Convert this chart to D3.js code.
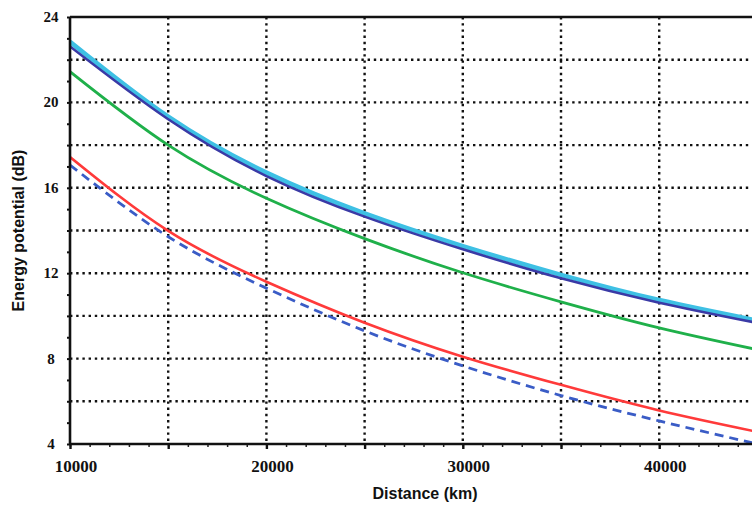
<!DOCTYPE html>
<html>
<head>
<meta charset="utf-8">
<script src="https://cdn.jsdelivr.net/npm/d3@7"></script>
<style>
  body { margin: 0; background: #fff; }
  svg { display: block; }
  .tickLabel text { font-family: "Liberation Serif", "Times New Roman", serif; font-weight: bold; fill: #111; }
  .title { font-family: "Liberation Sans", Arial, sans-serif; font-weight: bold; font-size: 16px; fill: #111; }
</style>
</head>
<body>
<div id="box"></div>
<script>
const distances = [10000, 15000, 20000, 25000, 30000, 35000, 40000, 45000]

const cyanSeries   = [22.84, 19.33, 16.71, 14.80, 13.27, 11.92, 10.74, 9.78]
const blueSeries   = [22.62, 19.21, 16.55, 14.65, 13.12, 11.76, 10.62, 9.67]
const greenSeries  = [21.44, 18.00, 15.51, 13.62, 12.02, 10.66, 9.44, 8.42]
const redSeries    = [17.44, 13.98, 11.60, 9.68, 8.09, 6.77, 5.57, 4.57]
const dashedSeries = [17.07, 13.71, 11.30, 9.30, 7.66, 6.27, 5.08, 4.00]

const xTickLabels = [10000, 20000, 30000, 40000]
const yTickLabels = [4, 8, 12, 16, 20, 24]

const width = 752
const height = 506
const margin = { left: 70, top: 17, bottom: 62 }
const plotRight = 757.4

const svg = d3.select('#box').append('svg')
  .attr('width', width)
  .attr('height', height)

const xScale = d3.scaleLinear().domain([10000, 45000]).range([margin.left, plotRight])
const yScale = d3.scaleLinear().domain([4, 24]).range([height - margin.bottom, margin.top])

svg.append('clipPath').attr('id', 'plotClip')
  .append('rect')
  .attr('x', margin.left).attr('y', margin.top - 2)
  .attr('width', plotRight - margin.left).attr('height', yScale(4) - margin.top + 4)

// dotted grid
const grid = svg.append('g')
  .attr('stroke', '#111')
  .attr('stroke-width', 2.4)
  .attr('stroke-dasharray', '2.4,3.8')

grid.selectAll('.hgrid')
  .data(d3.range(6, 24, 2))
  .enter()
  .append('line')
  .attr('x1', margin.left)
  .attr('x2', width)
  .attr('y1', d => yScale(d))
  .attr('y2', d => yScale(d))

grid.selectAll('.vgrid')
  .data(d3.range(15000, 45001, 5000))
  .enter()
  .append('line')
  .attr('x1', d => xScale(d))
  .attr('x2', d => xScale(d))
  .attr('y1', margin.top)
  .attr('y2', yScale(4))

// curves
const line = d3.line()
  .x((d, i) => xScale(distances[i]))
  .y(d => yScale(d))
  .curve(d3.curveNatural)

const series = [
  { values: cyanSeries,   color: '#3ec0e4', w: 4.6, dash: null },
  { values: blueSeries,   color: '#3a3aa6', w: 2.6, dash: null },
  { values: greenSeries,  color: '#1fb04a', w: 2.8, dash: null },
  { values: redSeries,    color: '#ff3a3a', w: 2.6, dash: null },
  { values: dashedSeries, color: '#3a5cc6', w: 2.8, dash: '9,6' }
]

const curves = svg.append('g').attr('clip-path', 'url(#plotClip)')
curves.selectAll('path')
  .data(series)
  .enter()
  .append('path')
  .attr('d', d => line(d.values))
  .attr('fill', 'none')
  .attr('stroke', d => d.color)
  .attr('stroke-width', d => d.w)
  .attr('stroke-dasharray', d => d.dash)

// axes: minor ticks
svg.append('g')
  .attr('transform', `translate(0, ${yScale(4)})`)
  .call(d3.axisBottom(xScale).tickValues(d3.range(10000, 45001, 1000)).tickSize(3).tickFormat(''))
  .call(g => g.select('.domain').remove())
  .selectAll('line').attr('stroke', '#222').attr('stroke-width', 1.5)

svg.append('g')
  .attr('transform', `translate(0, ${yScale(4)})`)
  .call(d3.axisBottom(xScale).tickValues(d3.range(10000, 45001, 5000)).tickSize(5).tickFormat(''))
  .call(g => g.select('.domain').remove())
  .selectAll('line').attr('stroke', '#111').attr('stroke-width', 2.4)

svg.append('g')
  .attr('transform', `translate(${margin.left}, 0)`)
  .call(d3.axisLeft(yScale).tickValues(d3.range(4, 24.1, 1)).tickSize(3).tickFormat(''))
  .call(g => g.select('.domain').remove())
  .selectAll('line').attr('stroke', '#111').attr('stroke-width', 2)

// axis lines and top border
svg.append('line')
  .attr('x1', margin.left).attr('x2', width)
  .attr('y1', yScale(4)).attr('y2', yScale(4))
  .attr('stroke', '#111').attr('stroke-width', 2.6)

svg.append('line')
  .attr('x1', margin.left).attr('x2', margin.left)
  .attr('y1', margin.top).attr('y2', yScale(4))
  .attr('stroke', '#111').attr('stroke-width', 2.6)

svg.append('line')
  .attr('x1', margin.left).attr('x2', width)
  .attr('y1', margin.top).attr('y2', margin.top)
  .attr('stroke', '#111').attr('stroke-width', 2.6)

// tick labels
const labels = svg.append('g').attr('class', 'tickLabel')

labels.selectAll('.xl')
  .data(xTickLabels)
  .enter()
  .append('text')
  .text(d => d)
  .attr('x', d => xScale(d) + 6)
  .attr('y', 472)
  .attr('text-anchor', 'middle')
  .style('font-size', '17px')

labels.selectAll('.yl')
  .data(yTickLabels)
  .enter()
  .append('text')
  .text(d => d)
  .attr('x', 51)
  .attr('y', d => yScale(d) + 5)
  .attr('text-anchor', 'middle')
  .style('font-size', '15px')

// titles
svg.append('text')
  .attr('class', 'title')
  .text('Distance (km)')
  .attr('x', 425)
  .attr('y', 499)
  .attr('text-anchor', 'middle')

svg.append('text')
  .attr('class', 'title')
  .text('Energy potential (dB)')
  .attr('transform', `translate(24, ${(margin.top + yScale(4)) / 2}) rotate(-90)`)
  .attr('text-anchor', 'middle')
</script>
</body>
</html>
